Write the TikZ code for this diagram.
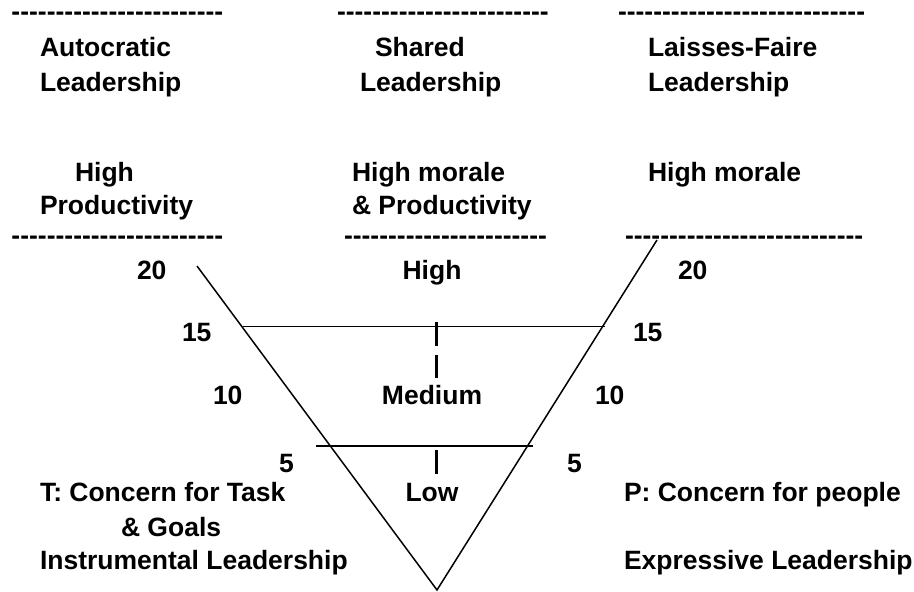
\documentclass[tikz,border=0pt]{standalone}
\usepackage{fontspec}
\newfontfamily\arialfont{Liberation Sans}
\usepackage{tikz}

\begin{document}
\begin{tikzpicture}[
  x=1pt,
  y=-1pt,
  every node/.style={font=\arialfont\bfseries\fontsize{26.5}{30}\selectfont, inner sep=0pt, outer sep=0pt},
  lbl/.style={anchor=base west},
  mid/.style={anchor=base},
  side/.style={line width=1.5pt},
  level/.style={line width=1.5pt},
  tick/.style={line width=2.6pt},
]

\useasboundingbox (0,0) rectangle (914,592);

% Row of typed hyphens.
\newcommand{\dashrow}[1]{\foreach \k in {1,...,#1}{-}}

% Top separators.
\node[lbl] (topA) at (11.5,20) {\dashrow{24}};
\node[lbl] (topS) at (337,20) {\dashrow{24}};
\node[lbl] (topL) at (618,20) {\dashrow{28}};

% Leadership styles.
\node[lbl] (auto1) at (40,56.5) {Autocratic};
\node[lbl] (auto2) at (40,91.5) {Leadership};
\node[lbl] (shar1) at (375,56.5) {Shared};
\node[lbl] (shar2) at (360,91.5) {Leadership};
\node[lbl] (lais1) at (648,56.5) {Laisses-Faire};
\node[lbl] (lais2) at (648,91.5) {Leadership};

% Outcomes.
\node[lbl] (outA1) at (75,181.5) {High};
\node[lbl] (outA2) at (40,214.5) {Productivity};
\node[lbl] (outS1) at (352,181.5) {High morale};
\node[lbl] (outS2) at (352,214.5) {\& Productivity};
\node[lbl] (outL1) at (648,181.5) {High morale};

% Lower separators.
\node[lbl] (botA) at (11.5,244.5) {\dashrow{24}};
\node[lbl] (botS) at (344,244.5) {\dashrow{23}};
\node[lbl] (botL) at (625,244.5) {\dashrow{27}};

% Scale values.
\node[lbl] (l20) at (137,279.5) {20};
\node[lbl] (r20) at (678,279.5) {20};
\node[lbl] (l15) at (182,341.5) {15};
\node[lbl] (r15) at (633,341.5) {15};
\node[lbl] (l10) at (213,404.5) {10};
\node[lbl] (r10) at (595,404.5) {10};
\node[lbl] (l5) at (279,472.5) {5};
\node[lbl] (r5) at (567,472.5) {5};

% Levels.
\node[mid] (high) at (432,279.5) {High};
\node[mid] (medium) at (432,404.5) {Medium};
\node[mid] (low) at (432,501.5) {Low};

% Concerns.
\node[lbl] (task1) at (40,501.5) {T: Concern for Task};
\node[lbl] (task2) at (121,536.5) {\& Goals};
\node[lbl] (task3) at (40,569.5) {Instrumental Leadership};
\node[lbl] (ppl1) at (624,501.5) {P: Concern for people};
\node[lbl] (ppl2) at (624,569.5) {Expressive Leadership};

% The V.
\coordinate (apex) at (437,590);
\coordinate (ltop) at (197,266);
\coordinate (rtop) at (657,240);
\draw[side] (ltop) -- (apex) -- (rtop);
\draw[level] (243,326.7) -- (605,326.7);
\draw[level] (316,446) -- (533,446);

% Centre ticks.
\draw[tick] (436.7,322) -- (436.7,346);
\draw[tick] (436.7,355) -- (436.7,378.3);
\draw[tick] (436.7,450) -- (436.7,474);

\end{tikzpicture}
\end{document}
